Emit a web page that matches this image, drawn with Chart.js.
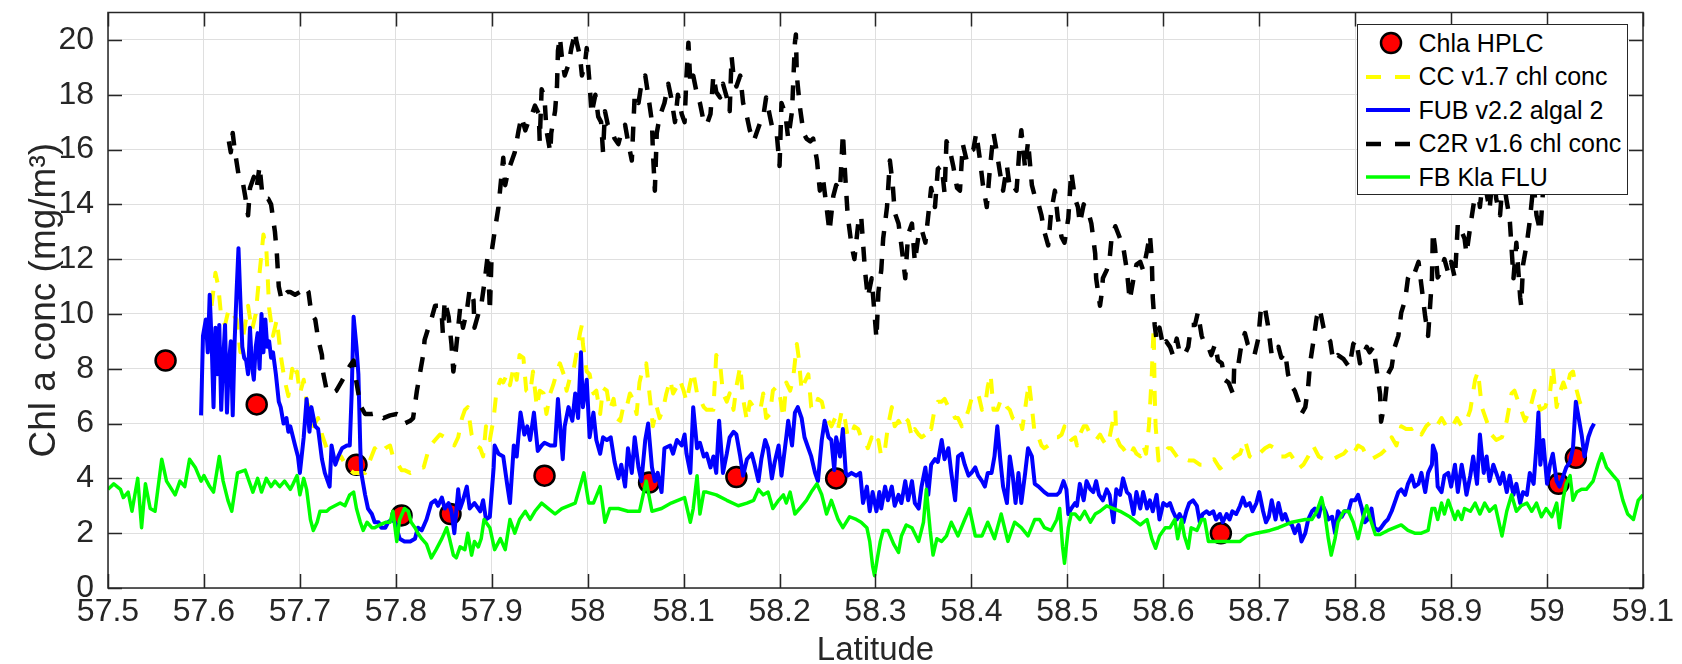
<!DOCTYPE html>
<html>
<head>
<meta charset="utf-8">
<script src="https://cdn.jsdelivr.net/npm/chart.js@4.4.1/dist/chart.umd.min.js"></script>
<style>
  body { margin: 0; background: #fff; }
  #wrap { position: relative; width: 1682px; height: 664px; }
  #legend {
    position: absolute; left: 1357px; top: 24px; width: 271px; height: 171px;
    box-sizing: border-box; background: #fff; border: 1.5px solid #262626;
    font-family: "Liberation Sans", Arial, sans-serif; font-size: 25px; color: #000;
  }
  .row { position: absolute; left: 0; height: 30px; display: flex; align-items: center; white-space: nowrap; }
  .row svg { margin-left: 7.5px; margin-right: 9px; }
</style>
</head>
<body>
<div id="wrap">
  <canvas id="chart" width="1682" height="664"></canvas>
  <div id="legend"></div>
</div>
<script>
//Ejes: marcas de latitud y de concentracion
const latTicks = [57.5, 57.6, 57.7, 57.8, 57.9, 58, 58.1, 58.2, 58.3, 58.4, 58.5, 58.6, 58.7, 58.8, 58.9, 59, 59.1]
const latLabels = ['57.5', '57.6', '57.7', '57.8', '57.9', '58', '58.1', '58.2', '58.3', '58.4', '58.5', '58.6', '58.7', '58.8', '58.9', '59', '59.1']
const chlTicks = [0, 2, 4, 6, 8, 10, 12, 14, 16, 18, 20]
const seriesLabels = ['Chla HPLC', 'CC v1.7 chl conc', 'FUB v2.2 algal 2', 'C2R v1.6 chl conc', 'FB Kla FLU']

//Muestras HPLC [latitud, chl]
const hplcPoints = [[57.560,8.3],[57.655,6.7],[57.759,4.5],[57.806,2.65],[57.857,2.7],[57.955,4.1],[58.064,3.85],[58.155,4.05],[58.259,4.0],[58.660,2.0],[59.012,3.8],[59.030,4.75]]

//CC v1.7 (amarillo, discontinua)
const ccPoints = [[57.608,10.3],[57.612,11.5],[57.615,11.0],[57.618,9.9],[57.622,9.6],[57.626,10.2],[57.630,10.0],[57.634,9.8],[57.638,8.6],[57.642,9.4],[57.646,10.3],[57.650,9.4],[57.654,10.0],[57.658,11.5],[57.662,12.9],[57.665,12.4],[57.668,10.2],[57.672,9.2],[57.676,9.8],[57.680,8.5],[57.684,7.6],[57.688,7.0],[57.692,8.0],[57.695,7.6],
[57.697,7.9],[57.700,7.1],[57.704,7.6],[57.707,6.8],[57.711,6.5],[57.714,5.9],[57.719,6.2],[57.723,5.6],[57.728,5.1],[57.733,4.9],[57.738,4.65],[57.743,4.8],[57.749,4.4],[57.756,4.2],[57.762,4.2],[57.768,4.2],[57.773,4.65],[57.778,5.1],[57.783,4.9],[57.789,5.1],[57.794,5.2],[57.797,4.8],[57.801,4.6],[57.806,4.3],[57.809,4.3],[57.815,4.2],[57.820,4.3],[57.825,4.4],[57.829,4.4],[57.833,4.9],[57.836,5.2],[57.841,5.4],[57.846,5.6],[57.851,5.5],[57.856,5.4],[57.861,5.2],[57.865,5.5],[57.869,6.2],[57.872,6.5],[57.875,6.6],[57.879,5.6],[57.884,5.2],[57.888,5.1],[57.891,4.8],[57.894,5.9],[57.898,5.4],
[57.902,6.2],[57.905,7.2],[57.909,7.6],[57.912,7.5],[57.916,7.8],[57.919,7.4],[57.923,8.1],[57.926,7.6],[57.929,8.5],[57.933,8.4],[57.936,7.2],[57.940,7.1],[57.943,7.9],[57.947,6.6],[57.950,7.2],[57.954,7.1],[57.957,6.35],[57.961,7.1],[57.964,7.4],[57.968,7.9],[57.971,8.2],[57.975,7.8],[57.978,7.2],[57.981,7.6],[57.985,7.9],[57.988,8.5],[57.992,9.3],[57.994,9.6],[57.995,8.9],[57.999,7.9],[58.002,7.8],[58.006,7.1],[58.009,7.2],[58.013,6.35],[58.016,7.3],[58.020,7.2],[58.023,6.5],[58.027,6.9],[58.030,6.2],[58.034,6.1],[58.037,6.6],[58.040,6.5],[58.044,7.1],[58.047,6.9],[58.051,6.35],[58.054,7.5],[58.058,8.1],[58.061,8.2],[58.065,6.9],[58.068,5.9],[58.072,6.6],[58.075,6.2],[58.079,6.6],[58.082,7.1],[58.086,7.6],[58.089,7.1],[58.093,7.35],[58.096,7.6],
[58.100,7.2],[58.103,6.8],[58.107,7.5],[58.110,7.9],[58.114,7.1],[58.117,6.9],[58.121,6.6],[58.124,6.5],[58.128,6.5],[58.131,6.5],[58.134,8.5],[58.138,8.2],[58.141,7.1],[58.145,6.8],[58.148,7.1],[58.152,6.5],[58.155,7.35],[58.159,8.1],[58.162,6.9],[58.166,6.1],[58.169,6.8],[58.173,6.6],[58.176,6.5],[58.180,6.5],[58.183,7.1],[58.186,6.2],[58.190,6.35],[58.193,7.2],[58.197,7.35],[58.200,7.1],[58.204,6.2],[58.207,7.5],[58.211,7.2],[58.214,7.6],[58.218,8.9],[58.220,8.4],[58.223,7.2],[58.226,7.5],[58.230,7.8],[58.233,6.6],[58.237,6.5],[58.240,6.9],[58.244,6.8],[58.247,6.35],[58.251,6.1],[58.254,5.9],[58.258,6.2],[58.261,5.8],[58.265,6.5],[58.268,6.2],[58.271,5.5],[58.275,5.6],[58.278,5.9],[58.282,5.8],[58.285,5.5],[58.289,5.4],[58.292,5.1],[58.296,5.5],[58.299,5.2],[58.303,5.4],
[58.306,4.8],[58.310,5.1],[58.313,5.9],[58.317,6.6],[58.320,5.9],[58.324,6.1],[58.327,5.9],[58.331,6.2],[58.334,6.1],[58.338,5.5],[58.341,5.8],[58.345,5.6],[58.348,5.5],[58.352,5.6],[58.355,5.9],[58.358,5.8],[58.362,6.6],[58.365,6.8],[58.369,6.8],[58.372,6.9],[58.376,6.6],[58.379,6.5],[58.383,6.2],[58.386,6.2],[58.390,5.9],[58.393,6.1],[58.397,6.5],[58.400,6.9],[58.404,7.1],[58.407,7.1],[58.411,6.5],[58.414,6.6],[58.417,7.35],[58.420,7.8],[58.423,6.5],[58.427,6.5],[58.430,6.8],[58.433,6.9],[58.437,6.6],[58.440,6.5],[58.443,6.2],[58.447,6.1],[58.450,6.2],[58.453,5.8],[58.457,6.8],[58.460,7.5],[58.463,6.6],[58.466,5.6],[58.470,5.5],[58.473,5.2],[58.476,5.1],[58.480,5.2],[58.483,5.4],[58.487,5.5],[58.490,5.5],[58.494,5.6],[58.497,5.9],[58.501,5.6],[58.504,5.4],[58.508,5.5],
[58.510,5.2],[58.513,5.6],[58.517,5.9],[58.520,5.9],[58.524,5.6],[58.527,5.5],[58.530,5.4],[58.534,5.6],[58.537,5.4],[58.541,5.2],[58.544,5.5],[58.548,6.2],[58.550,6.5],[58.551,5.5],[58.555,5.2],[58.558,5.1],[58.562,4.9],[58.565,4.8],[58.569,5.1],[58.572,4.9],[58.576,4.8],[58.579,5.2],[58.582,4.9],[58.585,5.9],[58.588,7.8],[58.589,8.8],[58.590,9.5],[58.591,7.1],[58.592,5.9],[58.595,4.65],[58.598,4.8],[58.601,4.9],[58.605,5.1],[58.608,5.1],[58.612,4.9],[58.617,4.65],[58.622,4.7],[58.627,4.65],[58.632,4.65],[58.638,4.5],[58.643,4.5],[58.648,4.65],[58.653,4.7],[58.659,4.36],[58.664,4.5],[58.669,4.6],[58.675,4.8],[58.680,4.9],[58.685,5.4],[58.690,4.8],[58.695,4.7],[58.700,4.9],[58.706,5.1],[58.711,5.2],
[58.716,5.1],[58.722,4.8],[58.727,4.8],[58.732,4.9],[58.737,4.65],[58.741,4.36],[58.746,4.5],[58.751,4.8],[58.756,5.2],[58.762,4.8],[58.767,4.7],[58.772,4.65],[58.777,4.7],[58.782,4.8],[58.788,4.9],[58.793,5.1],[58.798,4.9],[58.803,5.2],[58.808,5.1],[58.812,4.8],[58.817,4.7],[58.822,4.8],[58.827,4.9],[58.833,5.1],[58.838,5.5],[58.843,5.2],[58.848,5.9],[58.853,5.8],[58.859,5.8],[58.864,5.9],[58.869,5.6],[58.874,5.9],[58.880,6.1],[58.885,5.9],[58.890,6.2],[58.895,5.9],[58.900,5.8],[58.906,6.2],[58.911,5.9],[58.915,6.0],
[58.920,6.5],[58.925,7.6],[58.928,7.9],[58.932,6.6],[58.937,6.1],[58.942,5.6],[58.947,5.4],[58.953,5.5],[58.958,6.1],[58.963,7.1],[58.966,7.2],[58.972,6.6],[58.977,6.1],[58.982,6.5],[58.987,7.2],[58.993,6.5],[58.998,6.6],[59.003,7.1],[59.006,8.1],[59.010,6.6],[59.013,7.1],[59.017,7.5],[59.020,7.2],[59.024,7.8],[59.027,7.9],[59.031,7.2],[59.034,6.8],[59.038,6.4]]

//FUB v2.2 (azul, continua)
const fubPoints = [[57.597,6.3],[57.599,9.2],[57.602,9.8],[57.604,8.6],[57.606,10.7],[57.608,9.0],[57.610,6.6],[57.612,9.5],[57.614,7.8],[57.616,9.6],[57.618,6.5],[57.620,8.3],[57.622,9.6],[57.624,6.4],[57.626,8.2],[57.628,9.0],[57.630,6.3],[57.632,9.0],[57.634,10.8],[57.636,12.4],[57.638,10.5],[57.640,8.8],[57.642,8.4],[57.644,8.3],[57.646,7.8],[57.648,9.5],[57.650,8.1],[57.652,7.6],[57.654,8.8],[57.656,9.3],[57.658,8.0],[57.660,10.0],[57.662,8.6],[57.664,9.8],[57.666,8.8],[57.668,9.0],[57.670,8.4],[57.672,8.6],[57.675,7.8],[57.678,6.8],[57.680,6.6],[57.683,6.0],[57.686,6.2],[57.688,5.7],[57.690,5.9],[57.695,5.2],[57.698,4.8],
[57.700,4.2],[57.704,5.5],[57.707,6.9],[57.710,5.7],[57.712,6.6],[57.716,5.9],[57.719,5.8],[57.723,4.7],[57.726,4.2],[57.731,3.7],[57.733,5.2],[57.737,4.5],[57.740,4.8],[57.744,5.1],[57.749,5.2],[57.752,5.2],[57.754,7.1],[57.756,9.9],[57.759,8.8],[57.761,7.8],[57.763,5.1],[57.764,4.2],[57.768,3.4],[57.771,2.9],[57.775,2.7],[57.778,2.4],[57.782,2.4],[57.785,2.2],[57.789,2.2],[57.792,2.4],[57.796,2.5],[57.799,2.4],[57.804,1.8],[57.809,1.7],[57.815,1.7],[57.820,1.8],[57.823,2.2],[57.827,2.1],[57.832,2.5],[57.837,3.1],[57.841,3.2],[57.844,3.0],[57.848,3.3],[57.851,2.9],[57.855,3.1],[57.858,2.8],[57.861,2.0],[57.865,3.6],[57.867,2.9],[57.870,3.2],[57.874,3.7],[57.877,2.9],[57.882,3.1],[57.888,2.8],[57.891,3.2],[57.894,2.5],[57.898,2.6],
[57.902,4.4],[57.903,5.2],[57.907,4.9],[57.912,4.8],[57.916,3.8],[57.919,3.1],[57.923,5.2],[57.926,4.8],[57.930,6.4],[57.934,5.6],[57.937,5.9],[57.940,5.4],[57.944,6.4],[57.948,5.0],[57.952,5.2],[57.955,5.3],[57.961,5.2],[57.966,5.2],[57.969,6.9],[57.974,4.7],[57.976,5.9],[57.980,6.6],[57.984,6.1],[57.987,7.1],[57.990,6.2],[57.993,8.6],[57.995,6.6],[57.999,7.6],[58.002,5.5],[58.006,6.4],[58.009,5.4],[58.013,4.9],[58.016,5.5],[58.020,5.4],[58.024,5.5],[58.028,4.6],[58.032,4.0],[58.035,4.5],[58.039,3.7],[58.042,5.1],[58.046,4.2],[58.049,5.5],[58.053,4.4],[58.056,3.9],[58.060,5.4],[58.063,6.0],[58.067,4.4],[58.070,3.9],[58.073,4.2],[58.077,3.5],[58.080,5.1],[58.086,5.2],[58.089,4.9],[58.093,5.4],[58.098,5.2],
[58.101,5.6],[58.103,4.9],[58.107,4.2],[58.110,6.6],[58.114,5.1],[58.117,5.3],[58.121,4.8],[58.124,4.9],[58.128,4.4],[58.131,4.8],[58.134,4.2],[58.137,6.1],[58.141,4.2],[58.145,4.9],[58.148,5.5],[58.152,5.7],[58.155,5.6],[58.159,4.8],[58.162,4.1],[58.166,4.7],[58.171,4.9],[58.174,4.5],[58.178,3.9],[58.181,4.7],[58.185,5.4],[58.188,5.1],[58.192,4.0],[58.195,4.6],[58.199,5.2],[58.202,4.1],[58.207,5.5],[58.209,6.1],[58.213,5.2],[58.216,6.4],[58.219,6.6],[58.223,6.2],[58.226,5.5],[58.230,5.1],[58.233,4.8],[58.237,4.2],[58.240,3.9],[58.244,5.4],[58.247,6.1],[58.251,5.5],[58.254,5.4],[58.257,4.3],[58.259,5.5],[58.263,4.8],[58.266,5.8],[58.269,4.2],[58.271,4.1],[58.275,4.2],[58.280,4.1],[58.284,4.2],[58.287,3.1],[58.291,3.7],[58.294,2.8],[58.297,3.5],
[58.301,2.8],[58.304,3.5],[58.306,2.9],[58.310,3.7],[58.313,3.2],[58.317,3.7],[58.320,3.0],[58.324,3.4],[58.327,3.1],[58.331,3.9],[58.334,3.2],[58.338,3.9],[58.341,3.1],[58.345,2.9],[58.348,3.7],[58.352,4.4],[58.355,3.4],[58.358,4.5],[58.362,4.7],[58.365,4.6],[58.369,5.4],[58.372,4.7],[58.376,5.1],[58.379,4.2],[58.383,3.2],[58.386,4.8],[58.390,4.9],[58.393,4.5],[58.397,4.1],[58.400,4.2],[58.404,4.4],[58.407,4.1],[58.411,3.9],[58.414,3.7],[58.417,4.2],[58.421,4.2],[58.424,4.8],[58.427,5.9],[58.430,4.7],[58.433,3.7],[58.437,3.1],[58.440,4.8],[58.443,4.1],[58.446,3.1],[58.449,4.2],[58.452,3.1],[58.456,4.2],[58.459,5.1],[58.463,4.8],[58.466,3.8],[58.470,3.7],[58.473,3.6],[58.476,3.5],[58.480,3.4],[58.483,3.4],[58.489,3.4],[58.492,3.5],[58.496,3.9],[58.499,3.6],
[58.501,2.7],[58.504,2.9],[58.508,3.1],[58.510,3.0],[58.513,3.8],[58.517,3.2],[58.520,3.9],[58.524,3.6],[58.527,3.5],[58.530,3.9],[58.533,3.4],[58.537,3.2],[58.541,3.6],[58.544,3.4],[58.548,2.4],[58.551,3.6],[58.555,3.4],[58.558,4.0],[58.562,3.5],[58.565,3.4],[58.569,2.7],[58.572,3.5],[58.576,2.9],[58.579,3.5],[58.583,2.9],[58.586,3.2],[58.589,2.8],[58.593,3.4],[58.596,2.5],[58.600,3.1],[58.604,3.0],[58.607,3.1],[58.610,2.8],[58.614,2.5],[58.617,2.7],[58.621,2.4],[58.624,2.8],[58.627,3.1],[58.631,3.2],[58.635,3.0],[58.638,2.4],[58.641,2.7],[58.645,2.8],[58.648,2.7],[58.652,2.8],[58.655,2.5],[58.659,2.7],[58.662,2.4],[58.666,2.7],[58.669,2.5],[58.672,2.8],[58.676,2.7],[58.680,3.0],[58.683,3.3],[58.686,3.0],[58.690,3.1],[58.693,2.8],[58.697,3.1],
[58.700,3.5],[58.704,2.8],[58.707,2.4],[58.710,2.6],[58.713,3.2],[58.717,2.5],[58.720,3.1],[58.724,2.5],[58.727,2.7],[58.730,2.4],[58.734,2.3],[58.737,2.0],[58.741,2.3],[58.744,1.7],[58.748,2.0],[58.751,2.5],[58.755,2.8],[58.758,2.9],[58.762,2.6],[58.765,3.1],[58.769,2.8],[58.772,2.5],[58.776,2.6],[58.779,2.0],[58.782,2.8],[58.786,2.6],[58.789,2.8],[58.793,2.8],[58.796,3.2],[58.800,3.2],[58.803,3.4],[58.807,2.9],[58.810,2.4],[58.813,2.5],[58.817,2.9],[58.820,2.2],[58.824,2.1],[58.827,2.2],[58.831,2.4],[58.834,2.5],[58.838,2.8],[58.841,3.1],[58.845,3.5],[58.848,3.6],[58.852,3.4],[58.855,3.8],[58.859,4.1],[58.862,3.7],[58.866,3.8],[58.869,4.2],[58.873,3.5],[58.876,4.2],[58.880,4.5],[58.881,5.2],[58.884,4.9],[58.886,3.7],[58.890,3.5],[58.893,4.1],[58.897,4.2],
[58.900,3.7],[58.904,4.5],[58.907,3.5],[58.911,4.5],[58.914,3.9],[58.916,3.4],[58.920,4.1],[58.923,4.8],[58.927,3.8],[58.930,5.6],[58.934,4.2],[58.937,4.8],[58.940,3.9],[58.944,4.5],[58.947,4.2],[58.951,3.8],[58.954,4.2],[58.958,3.5],[58.961,4.1],[58.965,3.4],[58.968,3.8],[58.972,3.1],[58.975,3.5],[58.979,3.4],[58.982,4.2],[58.986,3.8],[58.989,5.2],[58.991,6.4],[58.993,4.5],[58.996,5.4],[59.000,3.8],[59.003,4.5],[59.006,4.9],[59.010,3.9],[59.013,3.7],[59.017,4.1],[59.020,4.4],[59.024,4.6],[59.027,5.1],[59.030,6.8],[59.032,6.4],[59.036,5.6],[59.039,4.8],[59.043,5.5],[59.046,5.8],[59.049,6.0]]

//C2R v1.6 (negro, discontinua)
const c2rPoints = [[57.626,16.3],[57.628,15.9],[57.630,16.6],[57.632,16.0],[57.636,15.1],[57.640,14.9],[57.643,14.3],[57.646,13.6],[57.648,14.6],[57.652,15.0],[57.655,14.6],[57.658,15.4],[57.661,14.3],[57.664,14.2],[57.667,14.2],[57.670,14.0],[57.674,13.0],[57.676,12.2],[57.678,11.0],[57.681,10.5],[57.684,10.7],[57.687,10.8],[57.690,10.8],[57.695,10.7],[57.700,10.8],[57.705,11.0],[57.709,10.8],[57.712,10.0],[57.716,9.8],[57.719,9.1],[57.723,8.5],[57.724,7.9],[57.728,7.2],[57.733,7.1],[57.738,7.2],[57.743,7.5],[57.749,7.9],[57.752,8.1],[57.756,8.3],[57.757,7.9],[57.761,7.1],[57.764,6.6],[57.768,6.35],[57.775,6.35],[57.782,6.4],[57.787,6.2],[57.794,6.3],[57.801,6.35],[57.804,6.3],[57.809,6.0],[57.815,6.1],[57.818,6.2],[57.822,7.2],[57.825,7.8],[57.829,8.6],[57.830,9.05],[57.834,9.5],[57.837,9.8],[57.841,10.3],[57.844,10.3],[57.848,9.9],[57.849,9.3],[57.851,10.5],[57.855,9.9],[57.858,8.9],[57.860,7.9],[57.863,8.8],[57.867,10.2],[57.870,9.5],[57.874,10.1],[57.877,10.9],[57.881,10.5],[57.882,9.5],[57.886,10.0],[57.889,10.3],[57.893,11.3],[57.896,12.2],[57.898,10.1],
[57.900,12.3],[57.903,13.0],[57.907,13.9],[57.910,15.0],[57.912,15.7],[57.914,14.7],[57.917,15.2],[57.921,15.6],[57.924,15.9],[57.928,16.7],[57.931,17.2],[57.935,16.7],[57.938,17.0],[57.942,17.3],[57.945,17.6],[57.949,17.3],[57.950,16.3],[57.952,18.2],[57.955,17.9],[57.957,16.7],[57.961,15.9],[57.962,16.6],[57.966,17.4],[57.968,18.3],[57.969,19.6],[57.971,20.1],[57.973,19.4],[57.976,18.7],[57.980,19.1],[57.983,19.7],[57.987,20.3],[57.988,20.0],[57.992,19.4],[57.994,18.7],[57.997,19.1],[57.999,19.7],[58.002,18.4],[58.004,17.3],[58.008,18.0],[58.011,17.2],[58.014,17.0],[58.016,15.9],[58.018,17.4],[58.021,16.9],[58.025,16.7],[58.028,16.4],[58.032,16.2],[58.035,16.6],[58.039,16.9],[58.042,16.3],[58.046,15.6],[58.049,18.0],[58.053,17.7],[58.056,18.4],[58.060,18.7],[58.063,18.0],[58.067,17.0],[58.068,15.9],[58.070,14.5],[58.072,16.6],[58.075,17.2],[58.080,17.7],[58.084,18.4],[58.087,17.9],[58.091,17.0],[58.094,18.0],[58.098,17.3],[58.101,17.0],
[58.103,18.7],[58.105,19.9],[58.107,18.4],[58.110,18.7],[58.114,18.0],[58.117,17.7],[58.121,17.0],[58.124,16.9],[58.128,17.3],[58.131,18.7],[58.134,18.1],[58.138,17.9],[58.141,18.4],[58.145,17.9],[58.148,17.4],[58.150,19.4],[58.152,18.7],[58.155,18.3],[58.159,18.7],[58.162,17.7],[58.166,17.2],[58.169,16.7],[58.173,16.3],[58.176,16.6],[58.180,17.0],[58.183,17.2],[58.186,17.9],[58.190,17.2],[58.193,16.7],[58.197,16.6],[58.200,15.4],[58.202,17.7],[58.206,17.3],[58.209,16.4],[58.213,17.4],[58.216,19.9],[58.217,20.2],[58.218,18.7],[58.221,17.6],[58.225,16.6],[58.228,16.4],[58.232,16.3],[58.235,16.4],[58.239,15.6],[58.242,14.5],[58.245,15.0],[58.249,13.9],[58.252,13.0],[58.256,14.3],[58.259,14.7],[58.263,14.5],[58.266,16.6],[58.268,15.3],[58.271,13.6],[58.275,12.5],[58.278,12.0],[58.282,13.3],[58.285,13.6],[58.289,11.6],[58.292,10.6],[58.296,11.3],[58.299,10.0],
[58.301,9.1],[58.303,10.8],[58.306,11.6],[58.308,12.75],[58.312,13.9],[58.315,15.6],[58.318,14.7],[58.320,13.7],[58.324,13.3],[58.327,12.5],[58.331,11.3],[58.334,12.9],[58.338,13.3],[58.341,11.9],[58.345,12.9],[58.348,13.1],[58.352,12.6],[58.355,13.6],[58.358,14.6],[58.362,13.9],[58.365,15.3],[58.369,15.4],[58.372,14.4],[58.374,16.3],[58.378,15.9],[58.381,15.4],[58.385,14.6],[58.388,14.5],[58.391,16.2],[58.395,15.6],[58.398,15.9],[58.402,16.0],[58.405,16.6],[58.409,15.6],[58.412,14.7],[58.416,13.9],[58.419,15.2],[58.423,16.6],[58.426,16.0],[58.430,15.1],[58.433,14.5],[58.437,15.4],[58.440,14.6],[58.443,14.7],[58.447,14.5],[58.450,16.0],[58.452,16.7],[58.456,15.3],[58.459,16.3],[58.463,14.7],[58.466,14.3],[58.470,14.0],[58.473,13.6],[58.476,13.0],[58.480,12.5],[58.483,13.7],[58.487,14.5],[58.490,13.5],[58.494,12.8],[58.497,12.6],
[58.501,13.5],[58.504,15.2],[58.508,14.2],[58.511,13.9],[58.513,13.3],[58.517,14.0],[58.518,13.9],[58.522,13.7],[58.525,13.3],[58.529,12.2],[58.530,11.3],[58.534,10.3],[58.536,10.8],[58.537,11.3],[58.541,11.6],[58.544,12.0],[58.546,12.75],[58.550,13.2],[58.555,12.75],[58.558,12.5],[58.562,11.6],[58.565,10.5],[58.569,11.3],[58.572,11.8],[58.576,11.9],[58.579,11.6],[58.583,12.3],[58.586,12.9],[58.588,12.0],[58.589,10.6],[58.591,9.6],[58.593,9.05],[58.596,9.5],[58.600,8.8],[58.603,9.0],[58.607,8.8],[58.610,8.5],[58.614,9.1],[58.617,8.6],[58.622,8.5],[58.626,8.8],[58.629,9.6],[58.633,9.6],[58.636,10.05],[58.640,9.2],[58.643,8.9],[58.647,8.8],[58.650,8.5],[58.654,8.9],[58.657,8.3],[58.661,8.2],[58.664,7.6],[58.668,7.5],[58.673,7.06],[58.674,8.2],[58.678,8.1],[58.681,8.8],[58.685,9.3],[58.688,8.9],[58.692,8.6],[58.695,8.5],[58.699,9.1],
[58.702,10.3],[58.706,10.2],[58.709,9.6],[58.713,8.5],[58.716,8.5],[58.720,8.8],[58.723,8.4],[58.727,8.6],[58.730,7.8],[58.734,7.35],[58.737,7.2],[58.741,6.8],[58.744,6.35],[58.748,6.6],[58.751,7.35],[58.753,8.2],[58.756,8.9],[58.760,9.9],[58.763,10.2],[58.767,9.5],[58.770,9.2],[58.774,9.0],[58.777,8.3],[58.782,8.5],[58.788,8.35],[58.791,8.2],[58.794,8.06],[58.798,8.9],[58.801,9.05],[58.805,8.2],[58.808,8.5],[58.812,8.8],[58.815,8.6],[58.819,8.8],[58.822,8.06],[58.826,7.06],[58.827,6.07],[58.831,6.8],[58.834,7.8],[58.838,8.06],[58.841,8.77],[58.845,9.2],[58.848,10.05],[58.852,10.5],[58.855,11.3],[58.859,11.6],[58.862,11.5],[58.866,11.9],[58.869,11.05],[58.873,9.9],[58.876,9.2],[58.880,11.3],[58.881,13.0],[58.883,12.5],[58.886,11.33],[58.890,11.6],[58.893,12.0],[58.897,11.5],
[58.900,11.9],[58.904,11.3],[58.907,13.3],[58.911,13.0],[58.914,12.75],[58.916,12.2],[58.920,13.2],[58.923,13.9],[58.927,14.8],[58.930,13.9],[58.934,15.2],[58.937,14.4],[58.940,13.8],[58.944,15.3],[58.947,14.2],[58.951,13.6],[58.954,15.0],[58.958,14.1],[58.961,13.5],[58.965,11.3],[58.968,12.6],[58.972,10.6],[58.973,10.3],[58.975,11.8],[58.979,12.6],[58.982,13.4],[58.986,14.8],[58.989,13.6],[58.993,13.0],[58.996,14.6],[59.000,14.2]]

//FB Kla FLU (verde, continua)
const fbPoints = [[57.500,3.6],[57.506,3.8],[57.513,3.6],[57.516,3.3],[57.521,3.5],[57.525,2.8],[57.531,4.0],[57.535,2.2],[57.539,3.8],[57.544,2.9],[57.549,2.8],[57.556,4.7],[57.561,3.9],[57.570,3.4],[57.575,3.9],[57.580,3.7],[57.585,4.7],[57.591,4.4],[57.597,3.9],[57.600,4.1],[57.606,3.7],[57.610,3.5],[57.616,4.8],[57.620,3.9],[57.625,3.2],[57.629,2.8],[57.635,4.2],[57.643,4.3],[57.647,3.9],[57.651,3.5],[57.656,4.0],[57.660,3.5],[57.665,4.0],[57.670,3.7],[57.674,3.9],[57.679,3.7],[57.684,3.9],[57.690,3.6],[57.693,3.8],[57.697,4.1],
[57.700,3.4],[57.704,4.0],[57.707,3.6],[57.711,2.5],[57.714,2.1],[57.718,2.4],[57.721,2.8],[57.728,2.8],[57.731,2.9],[57.742,3.1],[57.747,3.0],[57.752,3.4],[57.756,3.5],[57.759,2.9],[57.763,2.4],[57.766,2.1],[57.770,2.4],[57.775,2.2],[57.778,2.2],[57.783,2.3],[57.790,2.4],[57.794,2.4],[57.797,2.8],[57.801,1.7],[57.804,2.5],[57.809,2.9],[57.813,2.8],[57.816,2.4],[57.820,2.2],[57.823,2.0],[57.827,1.8],[57.832,1.6],[57.837,1.1],[57.842,1.4],[57.848,1.8],[57.853,2.2],[57.856,1.8],[57.860,1.2],[57.863,1.1],[57.867,1.5],[57.872,1.4],[57.875,2.0],[57.879,1.2],[57.882,1.7],[57.886,1.5],[57.889,1.8],[57.892,2.5],[57.894,2.4],[57.898,2.2],
[57.903,1.4],[57.909,1.8],[57.914,1.4],[57.919,2.5],[57.924,2.0],[57.929,2.5],[57.935,2.8],[57.940,2.5],[57.945,2.8],[57.952,3.1],[57.959,2.9],[57.966,2.7],[57.973,2.9],[57.980,3.0],[57.987,3.1],[57.992,3.7],[57.996,4.2],[58.001,3.1],[58.006,3.1],[58.013,3.7],[58.018,2.4],[58.023,2.9],[58.032,2.9],[58.042,2.8],[58.054,2.8],[58.061,3.9],[58.067,2.8],[58.077,2.9],[58.087,3.1],
[58.101,3.3],[58.107,2.4],[58.110,2.9],[58.114,4.1],[58.117,2.7],[58.121,3.5],[58.124,3.5],[58.134,3.4],[58.145,3.2],[58.157,3.0],[58.166,3.1],[58.173,3.2],[58.178,3.6],[58.183,3.4],[58.188,3.5],[58.193,2.9],[58.199,3.2],[58.204,3.4],[58.207,3.1],[58.211,3.5],[58.216,2.7],[58.221,2.9],[58.228,3.2],[58.233,3.5],[58.239,3.8],[58.244,3.4],[58.249,2.7],[58.254,3.2],[58.261,2.5],[58.266,2.2],[58.273,2.6],[58.280,2.5],[58.285,2.4],[58.291,2.2],[58.294,1.7],[58.297,0.8],[58.299,0.45],
[58.302,1.1],[58.305,1.7],[58.308,2.1],[58.313,2.1],[58.319,1.6],[58.324,1.3],[58.327,1.9],[58.332,2.3],[58.338,2.2],[58.345,1.7],[58.350,2.4],[58.353,3.6],[58.357,2.1],[58.360,1.2],[58.364,1.8],[58.369,1.7],[58.374,1.9],[58.379,2.4],[58.386,1.9],[58.393,2.5],[58.398,2.9],[58.404,1.9],[58.411,1.9],[58.417,2.4],[58.424,1.8],[58.431,2.7],[58.438,1.7],[58.445,2.4],[58.452,2.2],[58.459,1.9],[58.466,2.5],[58.471,2.5],[58.476,2.2],[58.483,2.1],[58.489,2.5],[58.492,2.9],[58.495,1.5],[58.497,0.9],
[58.501,2.2],[58.504,2.7],[58.508,2.7],[58.513,2.5],[58.518,2.8],[58.524,2.4],[58.529,2.7],[58.534,2.8],[58.541,3.0],[58.555,2.8],[58.565,2.6],[58.576,2.3],[58.583,2.5],[58.588,1.8],[58.592,1.45],[58.596,1.9],[58.602,2.2],[58.607,2.2],[58.612,2.5],[58.615,1.8],[58.619,2.5],[58.622,1.9],[58.626,1.45],[58.629,2.2],[58.635,2.1],[58.640,2.5],[58.643,2.5],[58.647,1.7],[58.652,1.7],[58.662,1.7],[58.673,1.7],[58.680,1.7],[58.687,1.9],[58.697,2.0],
[58.711,2.1],[58.720,2.2],[58.734,2.4],[58.748,2.5],[58.755,2.5],[58.760,2.8],[58.765,3.3],[58.768,2.8],[58.772,1.8],[58.775,1.2],[58.779,1.8],[58.782,2.4],[58.788,2.8],[58.793,2.8],[58.798,2.4],[58.803,1.8],[58.807,2.4],[58.812,3.0],[58.815,2.6],[58.821,1.95],[58.826,1.95],[58.834,2.1],[58.841,2.2],[58.848,2.3],[58.855,2.1],[58.862,2.0],[58.869,2.0],[58.876,2.1],[58.880,2.9],[58.883,2.9],[58.886,2.5],[58.890,3.1],[58.893,2.7],[58.897,3.2],
[58.900,2.9],[58.904,2.5],[58.907,2.8],[58.911,2.5],[58.914,2.9],[58.920,2.8],[58.925,3.1],[58.930,2.7],[58.935,3.1],[58.940,2.8],[58.946,3.0],[58.953,1.9],[58.958,2.8],[58.963,3.4],[58.968,2.8],[58.973,3.0],[58.979,3.1],[58.984,2.8],[58.989,3.1],[58.994,2.6],[58.999,2.9],[59.005,2.6],[59.010,3.1],[59.013,2.2],[59.017,3.3],[59.020,3.8],[59.024,4.1],[59.027,3.2],[59.031,3.5],[59.036,3.6],[59.041,3.6],[59.048,3.9],[59.053,4.5],[59.057,4.9],[59.062,4.4],[59.069,4.1],[59.074,3.9],[59.079,3.2],[59.084,2.7],[59.090,2.5],[59.095,3.2],[59.100,3.4]]

const toXY = pts => pts.map(p => ({ x: p[0], y: p[1] }))
const axisColor = '#262626'
const gridColor = '#dfdfdf'
const fontFamily = '"Liberation Sans", Arial, sans-serif'

//Caja de los ejes con marcas hacia dentro, como en MATLAB
const axisBox = {
  id: 'axisBox',
  afterDatasetsDraw(chart) {
    const { ctx, chartArea: a, scales } = chart
    const len = 14
    ctx.save()
    ctx.strokeStyle = axisColor
    ctx.lineWidth = 1.5
    ctx.beginPath()
    scales.x.ticks.forEach(t => {
      const px = Math.round(scales.x.getPixelForValue(t.value)) + 0.5
      ctx.moveTo(px, a.bottom); ctx.lineTo(px, a.bottom - len)
      ctx.moveTo(px, a.top); ctx.lineTo(px, a.top + len)
    })
    scales.y.ticks.forEach(t => {
      const py = Math.round(scales.y.getPixelForValue(t.value)) + 0.5
      ctx.moveTo(a.left, py); ctx.lineTo(a.left + len, py)
      ctx.moveTo(a.right, py); ctx.lineTo(a.right - len, py)
    })
    ctx.stroke()
    ctx.strokeRect(a.left, a.top, a.right - a.left, a.bottom - a.top)
    ctx.restore()
  }
}

const lineSet = (label, pts, color, width, dash, order) => ({
  label, data: toXY(pts), borderColor: color, backgroundColor: color,
  borderWidth: width, borderDash: dash, pointRadius: 0, tension: 0,
  borderJoinStyle: 'round', borderCapStyle: 'butt', fill: false, order
})

const ctx = document.getElementById('chart').getContext('2d')
const myChart = new Chart(ctx, {
  type: 'line',
  data: {
    datasets: [
      { label: seriesLabels[0], data: toXY(hplcPoints), showLine: false, pointRadius: 10,
        pointBackgroundColor: '#ff0000', pointBorderColor: '#000000', pointBorderWidth: 2.5, order: 5 },
      lineSet(seriesLabels[1], ccPoints, '#ffff00', 4, [15, 13], 4),
      lineSet(seriesLabels[2], fubPoints, '#0000ff', 4, [], 3),
      lineSet(seriesLabels[3], c2rPoints, '#000000', 4.5, [15, 13], 2),
      lineSet(seriesLabels[4], fbPoints, '#00ff00', 3.5, [], 1)
    ]
  },
  options: {
    responsive: false,
    animation: false,
    layout: { padding: { top: 7, right: 39, left: 0, bottom: 0 } },
    plugins: { legend: { display: false }, tooltip: { enabled: false } },
    scales: {
      x: {
        type: 'linear', min: 57.5, max: 59.1,
        afterBuildTicks: s => { s.ticks = latTicks.map(v => ({ value: v })) },
        afterFit: s => { s.height = 76; s.paddingLeft = 0; s.paddingRight = 0 },
        grid: { color: gridColor, lineWidth: 1, drawTicks: false },
        border: { display: false },
        ticks: { padding: 5, color: axisColor, maxRotation: 0, autoSkip: false,
          font: { family: fontFamily, size: 32 }, callback: (v, i) => latLabels[i] },
        title: { display: true, text: 'Latitude', color: axisColor, padding: { top: 0, bottom: -3 },
          font: { family: fontFamily, size: 33, lineHeight: 1 } }
      },
      y: {
        type: 'linear', min: 0, max: 21,
        afterBuildTicks: s => { s.ticks = chlTicks.map(v => ({ value: v })) },
        afterFit: s => { s.width = 108; s.paddingTop = 0; s.paddingBottom = 0 },
        grid: { color: gridColor, lineWidth: 1, drawTicks: false },
        border: { display: false },
        ticks: { padding: 14, color: axisColor, font: { family: fontFamily, size: 32 },
          callback: v => String(v) },
        title: { display: true, text: 'Chl a conc (mg/m³)', color: axisColor,
          padding: { top: 26, bottom: 0 }, font: { family: fontFamily, size: 37, lineHeight: 1 } }
      }
    }
  },
  plugins: [axisBox]
})

//Leyenda encima del grafico, con fondo blanco
const legendStyles = [
  { kind: 'dot' },
  { kind: 'line', color: '#ffff00', dash: '15 14', w: 4 },
  { kind: 'line', color: '#0000ff', dash: '', w: 4 },
  { kind: 'line', color: '#000000', dash: '15 14', w: 4.5 },
  { kind: 'line', color: '#00ff00', dash: '', w: 3.5 }
]
const legendBox = document.getElementById('legend')
seriesLabels.forEach((label, i) => {
  const st = legendStyles[i]
  const row = document.createElement('div')
  row.className = 'row'
  row.style.top = (3 + i * 33.5) + 'px'
  const swatch = st.kind === 'dot'
    ? '<circle cx="25" cy="12" r="10" fill="#ff0000" stroke="#000" stroke-width="2.5"/>'
    : `<line x1="0" y1="12" x2="44" y2="12" stroke="${st.color}" stroke-width="${st.w}" stroke-dasharray="${st.dash}"/>`
  row.innerHTML = `<svg width="44" height="24">${swatch}</svg><span>${label}</span>`
  legendBox.appendChild(row)
})
</script>
</body>
</html>
